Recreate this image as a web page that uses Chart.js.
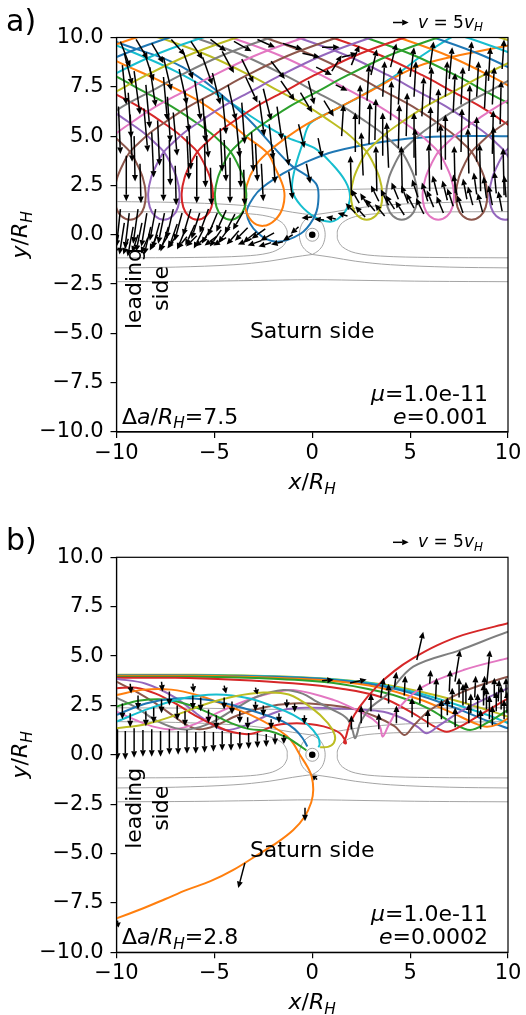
<!DOCTYPE html>
<html>
<head>
<meta charset="utf-8">
<script src="https://cdn.jsdelivr.net/npm/chart.js@4.4.0/dist/chart.umd.min.js"></script>
<style>
body { margin: 0; background: #fff; }
canvas { display: block; }
</style>
</head>
<body>
<canvas id="chartA" width="526" height="507"></canvas>
<canvas id="chartB" width="526" height="508"></canvas>
<script>
const C = {blue:'#1f77b4', orange:'#ff7f0e', green:'#2ca02c', red:'#d62728', purple:'#9467bd',
           brown:'#8c564b', pink:'#e377c2', grey:'#7f7f7f', olive:'#bcbd22', cyan:'#17becf'};

const xTicks = [-10, -5, 0, 5, 10];
const yTicks = [-10, -7.5, -5, -2.5, 0, 2.5, 5, 7.5, 10];
const panelNames = ['a)', 'b)'];
const deltaA = ['7.5', '2.8'];
const eccs = ['0.001', '0.0002'];
const massRatio = '1.0e-11';

// ---- panel a: repeated teardrop loop (offset from loop bottom) ----
const loopDx = [-14,-12,-10,-8,-6,-4.5,-3,-2,-1,-0.45,0,0.35,0.65,0.8,0.72,0.45,0,-0.45,-0.72,-0.8,-0.65,-0.35,0,0.45,1,2,3,4.5,6,8,10,12,14];
const loopY  = [10.9,10.4,9.8,9.05,8.1,7.3,6.5,5.85,5.15,4.65,4.2,3.6,2.9,2.1,1.4,0.95,0.76,0.95,1.4,2.1,2.9,3.6,4.2,4.65,5.15,5.85,6.5,7.3,8.1,9.05,9.8,10.4,10.9];
const loopBottomsA = [-19.6,-17.9,-16.2,-14.45,-12.7,-11.0,-9.31,-7.58,-5.87,-4.17,2.78,4.57,6.44,8.14,9.85,11.6,13.3,15.0,16.8,18.5,20.2];
const loopColorsA  = ['orange','blue','cyan','olive','grey','pink','brown','purple','red','green','olive','grey','pink','brown','purple','red','green','orange','blue','cyan','olive'];

// loops bent by the moon
const orangeA = [[-13,10.4],[-10,8.8],[-8,7.9],[-6,6.9],[-4.5,5.9],[-3.4,5.0],[-2.3,4.15],[-1.9,3.4],[-1.45,2.3],[-1.5,1.4],[-1.9,0.75],[-2.5,0.45],[-3.1,0.7],[-3.45,1.5],[-3.35,2.5],[-2.9,3.5],[-2.3,4.15],[-1.5,4.8],[-0.3,5.6],[1.08,6.3],[3,7.3],[5.34,8.52],[7.5,9.1],[10,9.6],[12,10.0]];
const blueA = [[-13,11.0],[-10,9.77],[-6.62,8.5],[-3.55,6.14],[-1.17,3.6],[0.19,2.59],[0.3,1.6],[0.05,0.8],[-0.6,0.05],[-1.82,-0.35],[-2.8,0.1],[-3.35,1.09],[-3.0,1.9],[-2.5,2.43],[-1.48,3.11],[-0.46,3.62],[1.08,4.21],[3.63,4.72],[6.18,4.97],[10,5.0],[12,5.0]];
const cyanA = [[-12,10.4],[-10,9.6],[-7,8.3],[-4.5,6.9],[-2.5,5.6],[-1.2,4.9],[0.1,4.4],[1.0,3.6],[1.7,2.7],[1.93,1.93],[1.7,1.2],[1.3,0.8],[0.9,0.66],[0.2,0.85],[-0.6,1.5],[-1.02,2.27],[-0.9,3.3],[-0.5,4.6],[-0.12,5.63],[0.91,6.22],[2.1,6.82],[4.14,8.0],[5.5,9.01],[6.69,9.77],[8,10.5]];

// ---- panel b trajectories ----
const oliveB1 = [[-10,1.34],[-8.5,1.55],[-7,2.0],[-5.5,2.55],[-4,2.95],[-2.5,3.15],[-1.2,3.05],[0,2.35],[0.8,1.6],[1.15,1.0],[1.1,0.6],[0.8,0.4],[0.4,0.38]];
const cyanB1 = [[-10,1.68],[-8.3,2.35],[-6.6,2.86],[-4.9,3.05],[-3.2,2.85],[-2,2.45],[-0.97,2.02],[-0.2,1.5],[0.3,0.9],[0.38,0.55],[0.32,0.38]];
const blueB1 = [[-10,2.02],[-8.5,2.6],[-7,2.85],[-5.5,2.8],[-4.2,2.55],[-3.18,2.27],[-2.2,1.95],[-1.48,1.68],[-0.9,1.3],[-0.5,0.85],[-0.25,0.42]];
const greenB1 = [[-10,2.44],[-8.8,2.75],[-7.5,2.8],[-6.2,2.5],[-5,2.0],[-4,1.55],[-3.2,1.3],[-2.2,1.2],[-1.3,0.88],[-0.7,0.5],[-0.3,0.22]];
const orangeB1 = [[-10,3.03],[-8.6,3.3],[-7.2,3.3],[-5.8,3.0],[-4.4,2.5],[-3.18,2.03],[-1.99,1.42],[-1.3,0.95],[-0.97,0.58],[-0.63,0],[-0.25,-0.6],[-0.03,-1.1],[0.05,-1.78],[-0.05,-2.4],[-0.4,-3.15],[-0.97,-3.81],[-1.8,-4.45],[-2.67,-4.99],[-4.03,-5.83],[-5.2,-6.4],[-6.41,-6.84],[-7.5,-7.3],[-8.63,-7.77],[-10,-8.28],[-11,-8.6]];
const redB1 = [[-10,3.37],[-9,3.4],[-8,3.1],[-7,2.6],[-6,2.0],[-5,1.5],[-4.1,1.15],[-3.2,1.05],[-2.5,1.25],[-1.82,1.51],[-0.79,1.6],[0.23,1.51],[0.91,1.34],[1.42,1.09],[1.67,0.75],[1.72,0.58],[1.62,0.62],[1.72,0.9],[1.93,1.6],[2.44,2.45],[3.29,3.45],[4.2,4.25],[5.16,4.89],[6.4,5.55],[7.72,6.07],[10,6.66],[11,6.9]];
const greyB1 = [[-10,2.9],[-9,2.4],[-8,1.75],[-7,1.35],[-6.2,1.3],[-5.2,1.6],[-4,2.3],[-2.8,2.95],[-1.48,3.28],[-0.5,3.1],[0.23,2.69],[1.0,2.3],[1.76,1.85],[2.05,1.26],[2.18,0.84],[2.3,1.1],[2.44,1.6],[2.95,2.35],[3.8,3.03],[5.16,4.46],[7.55,5.3],[10,6.23],[11,6.5]];
const pinkB1 = [[-10,2.18],[-9,1.75],[-8,1.4],[-7.1,1.29],[-6,1.55],[-4.9,2.1],[-3.5,2.7],[-2.2,3.1],[-0.97,3.28],[1.08,2.78],[2.44,2.18],[3.1,1.8],[3.46,1.42],[3.6,0.92],[3.9,1.5],[4.48,2.44],[5.67,3.45],[7.72,4.29],[10,4.89],[11,5.1]];
const brownB1 = [[-10,3.7],[-9,3.2],[-8,2.6],[-7,1.9],[-6.3,1.45],[-5.77,1.29],[-5,1.45],[-3.8,2.0],[-2.5,2.4],[-1,2.6],[0.5,2.55],[2.0,2.35],[3.2,1.95],[4.2,1.45],[4.72,1.0],[5.2,1.5],[6.02,2.27],[7.72,3.2],[10,3.96],[11,4.2]];
const purpleB1 = [[-10,3.85],[-8.5,3.6],[-7,2.9],[-5.8,2.0],[-5,1.45],[-4.4,1.25],[-3.5,1.45],[-2.5,1.9],[-1.48,2.27],[-0.2,2.38],[1.08,2.35],[2.4,2.3],[3.63,2.18],[4.6,1.85],[5.4,1.4],[5.85,1.09],[6.5,1.5],[7.72,2.27],[10,3.37],[11,3.8]];
const redB2 = [[-10,3.9],[-7,3.9],[-4,3.8],[-1,3.62],[1.5,3.35],[3.46,2.94],[5.16,2.1],[6.2,1.45],[6.87,1.17],[7.6,1.45],[8.57,2.02],[10,2.86]];
const greenB2 = [[-10,3.95],[-6,3.95],[-2,3.85],[1,3.65],[3.46,3.2],[5,2.75],[6.02,2.3],[7.2,1.6],[8.06,1.26],[8.9,1.6],[10,2.27]];
const orangeB2 = [[-10,4.0],[-6,4.0],[-2,3.9],[1,3.75],[3.46,3.4],[5.5,2.8],[7.2,2.1],[8.3,1.6],[8.91,1.42],[9.5,1.55],[10,1.85]];
const blueB2 = [[-10,4.02],[-6,4.02],[-2,3.95],[1,3.8],[3.46,3.5],[5.5,3.0],[7.5,2.3],[9,1.7],[10,1.34]];
const cyanB2 = [[-10,4.03],[-6,4.03],[-2,3.97],[1,3.82],[3.46,3.55],[5.5,3.1],[7.5,2.5],[9,2.0],[10,1.6]];
const oliveB2 = [[-10,4.05],[-6,4.05],[-2,3.98],[1,3.84],[3.46,3.58],[5.5,3.2],[7.5,2.7],[9,2.25],[10,1.93]];

// ---- zero-velocity curves (same in both panels) ----
const zvcOuterN = [[-10,2.38],[-6,2.36],[-3,2.32],[0,2.28],[3,2.32],[6,2.36],[10,2.38]];
const zvcOuterS = [[-10,-2.38],[-6,-2.36],[-3,-2.32],[0,-2.28],[3,-2.32],[6,-2.36],[10,-2.38]];
const zvcMidNW = [[-10,1.68],[-7,1.64],[-4,1.52],[-2.2,1.34],[-1,1.14],[0,1.0]];
const zvcMidNE = [[0,1.0],[1,1.14],[2.2,1.34],[4,1.52],[7,1.64],[10,1.68]];
const zvcMidSW = [[-10,-1.68],[-7,-1.64],[-4,-1.52],[-2.2,-1.34],[-1,-1.14],[0,-1.0]];
const zvcMidSE = [[0,-1.0],[1,-1.14],[2.2,-1.34],[4,-1.52],[7,-1.64],[10,-1.68]];
const hillLobeE = [[0,1.0],[0.3,0.82],[0.55,0.5],[0.66,0],[0.55,-0.5],[0.3,-0.82],[0,-1.0]];
const hillLobeW = [[0,1.0],[-0.3,0.82],[-0.55,0.5],[-0.66,0],[-0.55,-0.5],[-0.3,-0.82],[0,-1.0]];
const horseW = [[-10,1.17],[-6,1.15],[-3.5,1.08],[-2.2,0.92],[-1.55,0.62],[-1.3,0.25],[-1.28,0],[-1.3,-0.25],[-1.55,-0.62],[-2.2,-0.92],[-3.5,-1.08],[-6,-1.15],[-10,-1.17]];
const horseE = [[10,1.17],[6,1.15],[3.5,1.08],[2.2,0.92],[1.55,0.62],[1.3,0.25],[1.28,0],[1.3,-0.25],[1.55,-0.62],[2.2,-0.92],[3.5,-1.08],[6,-1.15],[10,-1.17]];

// ---- velocity arrows [x, y, u, v] in plot units ----
const arrowsA = [
  // top-left, falling
  [-9.8,9.8,0.5,-1.3],[-9.0,9.9,0.6,-1.0],[-8.2,9.7,0.6,-1.0],[-7.2,9.9,0.7,-0.8],[-6.2,9.8,0.6,-0.9],[-5.2,9.9,0.8,-0.6],[-4.0,9.8,0.9,-0.5],[-2.8,9.9,0.9,-0.4],[-1.5,9.7,1.0,-0.3],
  [-9.6,9.2,0.4,-1.6],[-8.6,9.3,0.5,-1.5],[-7.6,9.0,0.4,-1.7],[-6.6,9.3,0.5,-1.4],[-5.6,9.0,0.5,-1.4],[-4.6,9.3,0.6,-1.1],[-3.6,8.9,0.6,-1.2],[-2.1,8.8,0.7,-0.9],
  [-9.7,8.6,0.2,-2.0],[-9.1,8.3,0.3,-2.2],[-8.3,8.5,0.3,-2.0],[-7.6,8.0,0.2,-2.2],[-6.8,8.4,0.4,-1.8],[-6.0,7.8,0.3,-2.0],[-5.1,8.2,0.4,-1.6],[-4.3,7.6,0.4,-1.8],[-3.4,8.0,0.6,-1.3],[-2.5,7.4,0.4,-1.6],[-1.6,7.8,0.7,-1.0],[-0.6,7.2,0.6,-1.0],
  [-9.4,7.2,0.15,-2.3],[-8.5,7.6,0.2,-2.2],[-7.4,7.0,0.15,-2.3],[-6.5,7.3,0.2,-2.1],[-5.6,6.9,0.15,-2.2],[-4.6,7.1,0.2,-2.0],[-3.6,6.7,0.15,-2.1],[-2.7,6.8,0.25,-1.8],[-1.8,6.5,0.25,-1.7],
  [-9.9,6.5,0.1,-2.4],[-9.3,6.1,0.1,-2.4],[-8.6,6.4,0.2,-2.2],[-7.9,5.8,0.1,-2.3],[-7.1,6.2,0.2,-2.2],[-6.3,5.6,0.1,-2.3],[-5.5,6.0,0.2,-2.1],[-4.7,5.4,0.1,-2.2],[-3.9,5.9,0.2,-2.0],[-3.1,5.2,0.1,-2.0],[-2.2,5.6,0.2,-1.8],[-1.4,5.0,0.2,-1.5],[-0.7,5.6,0.3,-1.2],
  [-9.1,5.0,0.05,-2.3],[-8.2,5.2,0.1,-2.3],[-7.3,4.8,0.05,-2.3],[-6.4,5.0,0.1,-2.2],[-5.5,4.6,0.05,-2.2],[-4.5,4.8,0.1,-2.1],[-3.7,4.4,0.05,-2.0],[-2.9,4.6,0.1,-1.9],[-2.0,4.3,0.1,-1.7],
  [-9.5,4.0,0.0,-2.3],[-8.8,3.6,0.05,-2.0],[-7.6,4.1,0.0,-2.4],[-7.0,3.5,0.05,-2.0],[-5.9,4.0,0.0,-2.4],[-5.2,3.4,0.05,-1.9],[-4.2,3.9,0.0,-2.3],[-3.5,3.3,0.05,-1.8],[-2.6,3.6,0.1,-1.9],[-1.2,3.2,0.2,-1.4],[-0.3,3.6,0.2,-1.0],
  [-0.2,7.8,0.3,-1.2],[0.6,6.8,0.5,-0.8],[1.2,7.6,0.6,-0.3],[0.3,4.9,0.2,-1.0],
  // bottom-left band
  [-9.8,1.3,-0.2,-1.9],[-9.35,1.1,-0.22,-1.8],[-8.9,1.3,-0.25,-1.75],[-8.45,1.1,-0.28,-1.7],[-8.0,1.3,-0.3,-1.6],[-7.55,1.1,-0.32,-1.55],[-7.1,1.3,-0.35,-1.5],[-6.65,1.1,-0.38,-1.4],[-6.2,1.3,-0.4,-1.35],[-5.75,1.1,-0.42,-1.3],[-5.3,1.3,-0.45,-1.2],[-4.85,1.1,-0.48,-1.15],[-4.4,1.25,-0.5,-1.1],[-3.95,1.05,-0.52,-1.0],[-3.5,1.2,-0.55,-0.95],
  [-9.6,0.6,-0.25,-1.6],[-9.15,0.4,-0.28,-1.5],[-8.7,0.6,-0.3,-1.45],[-8.25,0.4,-0.33,-1.4],[-7.8,0.6,-0.36,-1.3],[-7.35,0.4,-0.4,-1.25],[-6.9,0.55,-0.42,-1.2],[-6.45,0.35,-0.45,-1.1],[-6.0,0.5,-0.48,-1.05],[-5.55,0.3,-0.5,-1.0],[-5.1,0.45,-0.55,-0.9],[-4.65,0.25,-0.58,-0.85],[-4.2,0.4,-0.6,-0.8],[-3.75,0.2,-0.62,-0.7],[-3.3,0.35,-0.65,-0.65],[-2.85,0.15,-0.68,-0.55],[-2.4,0.3,-0.7,-0.5],[-1.95,0.1,-0.7,-0.4],
  [-9.9,0.0,-0.2,-1.0],[-9.4,-0.2,-0.25,-0.8],[-8.9,0.0,-0.3,-0.9],[-8.4,-0.15,-0.35,-0.8],[-7.9,0.0,-0.4,-0.8],[-7.4,-0.1,-0.45,-0.7],[-6.9,0.0,-0.5,-0.7],[-6.4,-0.1,-0.5,-0.6],[-5.9,-0.05,-0.55,-0.55],[-5.4,-0.1,-0.6,-0.5],[-4.9,-0.1,-0.6,-0.45],[-4.4,-0.15,-0.65,-0.4],
  [-3.1,-0.2,-0.7,-0.3],[-2.6,-0.3,-0.7,-0.25],[-2.1,-0.4,-0.65,-0.2],[-1.5,-0.35,-0.6,-0.15],[-1.0,0.0,-0.5,-0.3],[-0.7,0.4,-0.4,-0.35],
  // near the moon and right band, rising
  [0.0,0.9,-0.55,-0.05],[0.6,0.75,-0.5,0.05],[1.2,0.8,-0.5,0.1],[1.8,0.95,-0.5,0.15],
  [2.2,1.1,-0.5,0.5],[2.7,0.9,-0.5,0.55],[3.2,1.2,-0.5,0.6],[3.7,0.95,-0.5,0.6],[4.2,1.3,-0.45,0.7],[4.7,1.0,-0.45,0.7],[5.2,1.35,-0.4,0.75],[5.7,1.05,-0.4,0.8],[6.2,1.4,-0.35,0.85],[6.7,1.1,-0.35,0.85],[7.2,1.45,-0.3,0.9],[7.7,1.1,-0.3,0.9],[8.2,1.5,-0.25,0.95],[8.7,1.15,-0.25,0.95],[9.2,1.5,-0.2,1.0],[9.7,1.2,-0.2,1.0],
  [2.4,1.6,-0.4,0.7],[2.9,1.4,-0.45,0.7],[3.4,1.7,-0.4,0.8],[3.9,1.5,-0.4,0.8],[4.4,1.8,-0.35,0.85],[4.9,1.6,-0.35,0.9],[5.4,1.9,-0.3,0.9],[5.9,1.7,-0.3,0.95],[6.4,2.0,-0.25,1.0],[6.9,1.75,-0.25,1.0],[7.4,2.0,-0.2,1.05],[7.9,1.8,-0.2,1.05],[8.4,2.05,-0.15,1.1],[8.9,1.85,-0.15,1.1],[9.4,2.1,-0.1,1.1],[9.9,1.9,-0.1,1.1],
  [2.0,2.0,-0.05,2.0],[2.6,3.0,-0.1,2.2],[3.3,2.2,-0.05,2.3],[3.9,3.4,-0.1,2.3],[4.6,2.1,-0.05,2.4],[5.3,3.0,-0.05,2.4],[6.0,2.2,-0.05,2.4],[6.6,3.3,-0.05,2.3],[7.3,2.1,-0.05,2.4],[8.0,3.1,-0.05,2.3],[8.6,2.2,-0.05,2.4],[9.3,3.2,-0.05,2.3],[9.8,2.0,-0.05,2.4],
  [2.2,4.2,0,2.0],[2.9,4.6,0.05,2.1],[3.6,4.0,0,2.2],[4.4,4.4,0.05,2.2],[5.2,3.9,0,2.3],[6.0,4.3,0.05,2.2],[6.8,3.8,0,2.3],[7.6,4.2,0.05,2.2],[8.4,3.7,0,2.3],[9.2,4.1,0.05,2.2],
  [1.5,5.0,0.1,1.6],[2.4,5.6,0.05,2.0],[3.2,4.8,0.05,2.1],[4.0,5.8,0.05,2.0],[4.8,5.0,0.05,2.2],[5.6,6.0,0.1,2.0],[6.4,5.2,0.05,2.2],[7.2,6.2,0.1,2.0],[8.0,5.4,0.05,2.2],[8.8,6.4,0.1,2.0],[9.6,5.6,0.05,2.2],
  [2.8,6.8,0.1,1.8],[3.6,7.0,0.1,1.8],[4.4,6.6,0.1,1.9],[5.2,7.0,0.1,1.8],[6.0,6.6,0.1,1.9],[6.8,7.0,0.1,1.8],[7.6,6.6,0.1,1.9],[8.4,7.0,0.1,1.8],[9.2,6.6,0.1,1.9],
  [1.0,8.3,0.5,0.8],[2.0,8.6,0.4,1.0],[3.0,8.1,0.3,1.3],[4.0,8.5,0.3,1.2],[5.0,8.0,0.2,1.5],[6.0,8.4,0.2,1.4],[7.0,7.9,0.15,1.6],[8.0,8.3,0.15,1.5],[9.0,7.8,0.1,1.7],[9.7,8.4,0.1,1.5],
  [-0.5,9.2,0.9,-0.2],[0.5,9.5,0.9,0.0],[1.5,9.0,0.8,0.2],[0.2,8.5,0.8,-0.4]
];
const arrowsB = [
  // leading side, falling
  [-9.95,1.3,0,-1.55],[-9.55,1.2,0,-1.45],[-9.1,1.35,0,-1.5],[-8.65,1.25,0,-1.35],[-8.2,1.3,0,-1.4],[-7.75,1.2,0,-1.3],[-7.3,1.3,0,-1.3],[-6.85,1.2,0,-1.2],[-6.4,1.25,0,-1.2],[-5.95,1.15,0,-1.1],[-5.5,1.2,0,-1.1],[-5.05,1.15,0,-1.0],[-4.6,1.2,0,-1.0],[-4.15,1.1,0,-0.9],[-3.7,1.15,0,-0.9],[-3.25,1.1,0,-0.8],[-2.8,1.1,0,-0.75],[-2.35,1.05,0,-0.65],[-1.9,1.05,0,-0.55],[-1.45,1.0,0,-0.45],
  [-9.7,2.6,0,-0.8],[-9.3,2.1,0,-0.7],[-8.9,3.0,0,-0.7],[-8.5,2.2,0,-0.75],[-8.1,2.4,0,-0.8],[-7.7,2.8,0,-0.7],[-7.3,3.2,0,-0.7],[-6.9,2.5,0,-0.75],[-6.5,2.2,0,-0.75],[-6.1,3.0,0,-0.7],[-5.7,2.9,0,-0.7],[-5.3,2.3,0,-0.7],[-4.9,2.0,0,-0.7],[-4.5,2.9,0,-0.6],[-4.1,2.7,0,-0.65],[-3.7,2.2,0,-0.6],[-3.3,1.9,0,-0.6],[-2.9,2.7,0,-0.5],[-2.5,2.5,0,-0.55],[-2.1,1.8,0,-0.5],[-1.7,2.1,0,-0.5],[-1.3,2.8,0,-0.45],[-0.9,2.6,0,-0.45],[-0.4,2.0,0,-0.45],
  [-9.3,3.6,0.05,-0.5],[-7.7,3.7,0.05,-0.5],[-6.1,3.6,0.05,-0.45],[-4.5,3.5,0.1,-0.4],[-2.9,3.4,0.1,-0.35],
  // trailing region, rising
  [2.0,1.3,0,0.7],[2.5,1.6,0,0.9],[3.0,2.2,0,0.9],[3.4,1.3,0,0.8],[3.9,2.6,0,1.0],[4.3,1.6,0,0.9],[4.7,3.0,0.05,1.0],[5.1,1.9,0,1.0],[5.5,2.6,0,1.0],[5.9,1.4,0,0.9],[6.3,2.8,0.05,1.1],[6.6,1.8,0,1.0],[7.0,3.2,0.05,1.1],[7.3,1.4,0,1.0],[7.7,2.5,0,1.1],[8.0,1.6,0,1.0],[8.3,2.9,0.05,1.1],[8.6,1.3,0,1.0],[8.9,2.3,0,1.1],[9.2,1.5,0,1.0],[9.5,2.7,0.05,1.1],[9.8,1.8,0,1.0],
  [6.9,2.0,0,0.9],[7.5,2.9,0,1.0],[8.1,2.1,0,1.0],[8.8,3.0,0,1.0],[9.4,2.2,0,1.0],[9.9,3.0,0,0.9],
  [8.45,1.9,0,1.2],[8.75,2.5,0,1.1],[9.05,1.8,0,1.2],[9.3,2.9,0,1.0],[9.65,2.3,0,1.2],[9.95,2.1,0,1.1],[7.85,2.6,0,1.1],[7.15,2.4,0,1.0],
  [5.34,4.8,0.33,1.43],[7.29,3.7,0.26,1.6],[8.91,3.54,0.17,1.76],[3.5,2.9,0.15,1.0],[4.2,3.4,0.1,0.8],[6.0,3.6,0.05,0.7],
  [1.93,3.64,0.85,0.17],[0.5,3.75,0.6,0.05],
  // saturn side
  [-0.37,-2.68,0,-0.68],[-3.44,-5.47,-0.34,-1.28],[0.25,-1.25,-0.25,0.2],[-9.95,-8.4,0.05,-0.35]
];
const keyArrow = 0.8; // length of the v = 5 v_H key arrow, plot units

function pts(arr) { return arr.map(p => ({x: p[0], y: p[1]})); }

function line(arr, color, width, order) {
  return {data: pts(arr), borderColor: color, borderWidth: width, showLine: true,
          pointRadius: 0, tension: 0.35, clip: 0, order: order, fill: false};
}

function contourSets() {
  const g = '#9a9a9a';
  return [zvcOuterN, zvcOuterS, zvcMidNW, zvcMidNE, zvcMidSW, zvcMidSE, hillLobeE, hillLobeW, horseW, horseE]
    .map(a => line(a, g, 0.9, 20)).concat([
      {data: [{x: 0, y: 0}], pointRadius: 6.5, pointBorderColor: g, pointBackgroundColor: 'rgba(0,0,0,0)', pointBorderWidth: 0.9, showLine: false, order: 19},
      {data: [{x: 0, y: 0}], pointRadius: 3.3, pointBorderColor: '#000', pointBackgroundColor: '#000', pointBorderWidth: 0, showLine: false, order: 0}
    ]);
}

const datasetsA = contourSets();
loopBottomsA.forEach((x0, i) => {
  datasetsA.push(line(loopDx.map((d, k) => [x0 + d, loopY[k]]), C[loopColorsA[i]], 2, 5));
});
datasetsA.push(line(orangeA, C.orange, 2, 5));
datasetsA.push(line(blueA, C.blue, 2, 5));
datasetsA.push(line(cyanA, C.cyan, 2, 5));

const datasetsB = contourSets();
[[oliveB1,'olive'],[cyanB1,'cyan'],[blueB1,'blue'],[greenB1,'green'],[orangeB1,'orange'],[redB1,'red'],[greyB1,'grey'],
 [pinkB1,'pink'],[brownB1,'brown'],[purpleB1,'purple'],[redB2,'red'],[greenB2,'green'],[orangeB2,'orange'],
 [blueB2,'blue'],[cyanB2,'cyan'],[oliveB2,'olive']].forEach(([a, c]) => datasetsB.push(line(a, C[c], 2, 5)));

const FONT = '"DejaVu Sans"';

function rich(ctx, parts, x, y, align, size) {
  const fontOf = st => (st.includes('i') ? 'italic ' : '') + (st.includes('s') ? size * 0.7 : size) + 'px ' + FONT;
  let w = 0;
  parts.forEach(([t, st]) => { ctx.font = fontOf(st); w += ctx.measureText(t).width; });
  let cx = align === 'right' ? x - w : align === 'center' ? x - w / 2 : x;
  ctx.textAlign = 'left';
  ctx.textBaseline = 'alphabetic';
  parts.forEach(([t, st]) => {
    ctx.font = fontOf(st);
    ctx.fillText(t, cx, y + (st.includes('s') ? size * 0.22 : 0));
    cx += ctx.measureText(t).width;
  });
}

function drawArrow(ctx, x0, y0, x1, y1) {
  const dx = x1 - x0, dy = y1 - y0;
  const L = Math.hypot(dx, dy);
  if (L < 0.5) return;
  const ux = dx / L, uy = dy / L;
  const hl = Math.min(6.5, L * 0.7), hw = 3;
  const bx = x1 - ux * hl, by = y1 - uy * hl;
  ctx.beginPath();
  ctx.moveTo(x0, y0);
  ctx.lineTo(bx, by);
  ctx.stroke();
  ctx.beginPath();
  ctx.moveTo(x1, y1);
  ctx.lineTo(bx - uy * hw, by + ux * hw);
  ctx.lineTo(bx + uy * hw, by - ux * hw);
  ctx.closePath();
  ctx.fill();
}

function decor(idx, arrows) {
  return {
    id: 'decor' + idx,
    afterDatasetsDraw(chart) {
      const {ctx, chartArea: a, scales: {x, y}} = chart;
      ctx.save();
      ctx.beginPath();
      ctx.rect(a.left, a.top, a.right - a.left, a.bottom - a.top);
      ctx.clip();
      ctx.strokeStyle = '#000';
      ctx.fillStyle = '#000';
      ctx.lineWidth = 1.5;
      arrows.forEach(([px, py, u, v]) => {
        drawArrow(ctx, x.getPixelForValue(px), y.getPixelForValue(py),
                  x.getPixelForValue(px + u), y.getPixelForValue(py + v));
      });
      ctx.restore();
    },
    afterDraw(chart) {
      const {ctx, chartArea: a, scales: {x, y}} = chart;
      ctx.save();
      ctx.strokeStyle = '#000';
      ctx.lineWidth = 1.2;
      ctx.strokeRect(a.left, a.top, a.right - a.left, a.bottom - a.top);
      ctx.fillStyle = '#000';
      ctx.font = '30px ' + FONT;
      ctx.textAlign = 'left';
      ctx.fillText(panelNames[idx], 6, a.top - 7);
      // key arrow
      const kl = x.getPixelForValue(keyArrow) - x.getPixelForValue(0);
      ctx.lineWidth = 1.5;
      drawArrow(ctx, 393, a.top - 15, 393 + kl, a.top - 15);
      rich(ctx, [['v', 'i'], [' = 5', ''], ['v', 'i'], ['H', 'si']], 418, a.top - 10, 'left', 17);
      // axis titles
      const cxp = (a.left + a.right) / 2, cyp = (a.top + a.bottom) / 2;
      rich(ctx, [['x', 'i'], ['/', ''], ['R', 'i'], ['H', 'si']], cxp, a.bottom + 57, 'center', 22);
      ctx.save();
      ctx.translate(27, cyp);
      ctx.rotate(-Math.PI / 2);
      rich(ctx, [['y', 'i'], ['/', ''], ['R', 'i'], ['H', 'si']], 0, 0, 'center', 22);
      ctx.restore();
      // annotations
      ctx.save();
      ctx.font = '22px ' + FONT;
      ctx.textAlign = 'center';
      ctx.translate(141, a.top + 251);
      ctx.rotate(-Math.PI / 2);
      ctx.fillText('leading', 0, 0);
      ctx.fillText('side', 0, 27);
      ctx.restore();
      ctx.font = '22px ' + FONT;
      ctx.textAlign = 'center';
      ctx.fillText('Saturn side', cxp, a.top + 300);
      rich(ctx, [['μ', 'i'], ['=' + massRatio, '']], 488, a.bottom - 31, 'right', 22);
      rich(ctx, [['e', 'i'], ['=' + eccs[idx], '']], 488, a.bottom - 8.5, 'right', 22);
      rich(ctx, [['Δ', ''], ['a', 'i'], ['/', ''], ['R', 'i'], ['H', 'si'], ['=' + deltaA[idx], '']], 122, a.bottom - 8.5, 'left', 22);
      ctx.restore();
    }
  };
}

function fmt(v, digits) {
  const s = Math.abs(v).toFixed(digits);
  return v < 0 ? '\u2212' + s : s;
}

function makeChart(id, idx, datasets, arrows, topPad, xHeight) {
  const tickFont = {family: 'DejaVu Sans', size: 21};
  return new Chart(document.getElementById(id), {
    type: 'scatter',
    data: {datasets: datasets},
    options: {
      responsive: false,
      animation: false,
      devicePixelRatio: 1,
      events: [],
      layout: {padding: {top: topPad, right: 18, left: 0, bottom: 0}},
      plugins: {legend: {display: false}, tooltip: {enabled: false}},
      scales: {
        x: {
          type: 'linear', min: -10, max: 10,
          afterBuildTicks: s => { s.ticks = xTicks.map(v => ({value: v})); },
          ticks: {font: tickFont, color: '#000', padding: 3, maxRotation: 0, autoSkip: false,
                  callback: v => fmt(v, 0)},
          grid: {drawOnChartArea: false, tickLength: 6, color: '#000', lineWidth: 1.2},
          border: {color: '#000', width: 1.2},
          afterFit: s => { s.height = xHeight; }
        },
        y: {
          type: 'linear', min: -10, max: 10,
          afterBuildTicks: s => { s.ticks = yTicks.map(v => ({value: v})); },
          ticks: {font: tickFont, color: '#000', padding: 7, autoSkip: false,
                  callback: v => fmt(v, 1)},
          grid: {drawOnChartArea: false, tickLength: 6, color: '#000', lineWidth: 1.2},
          border: {color: '#000', width: 1.2},
          afterFit: s => { s.width = 116.5; }
        }
      }
    },
    plugins: [decor(idx, arrows)]
  });
}

makeChart('chartA', 0, datasetsA, arrowsA, 37.5, 75);
makeChart('chartB', 1, datasetsB, arrowsB, 50.3, 62.7);
</script>
</body>
</html>
